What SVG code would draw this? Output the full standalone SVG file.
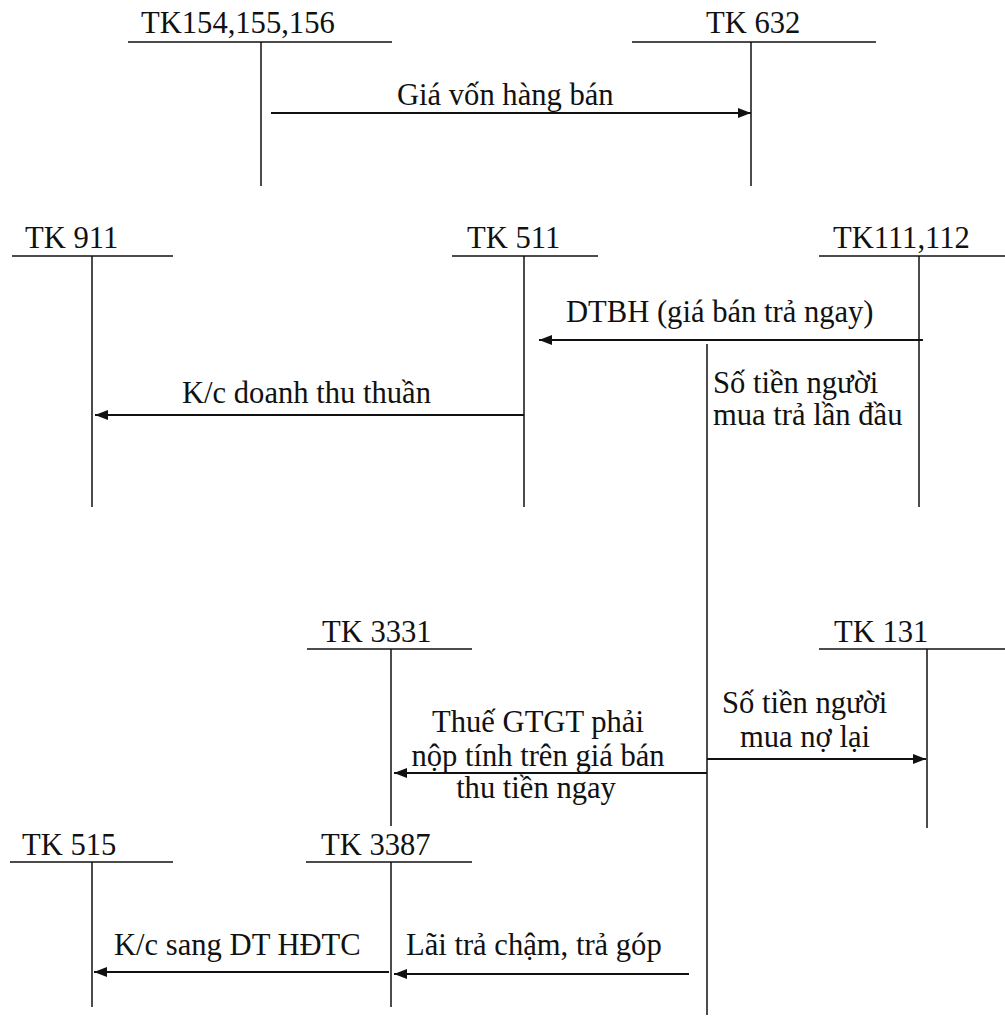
<svg xmlns="http://www.w3.org/2000/svg" width="1005" height="1017" viewBox="0 0 1005 1017">
<defs>
<style>
.t{font-family:"Liberation Serif","Times New Roman",serif;font-size:30.6px;fill:#111}
.a{stroke:#111;stroke-width:1.5;fill:none}
.c{stroke:#111;stroke-width:2;fill:none}
</style>
<marker id="ah" markerUnits="userSpaceOnUse" markerWidth="13" markerHeight="10" refX="13" refY="5" orient="auto">
<path d="M0,0 L13,5 L0,10 z" fill="#111"/>
</marker>
</defs>
<rect width="1005" height="1017" fill="#fff"/>
<g id="tk154">
<text class="t" x="141" y="33">TK154,155,156</text>
<line class="a" x1="128" y1="42" x2="392" y2="42"/>
<line class="a" x1="261" y1="42" x2="261" y2="186"/>
</g>
<g id="tk632">
<text class="t" x="706" y="33">TK 632</text>
<line class="a" x1="632" y1="42" x2="876" y2="42"/>
<line class="a" x1="751" y1="42" x2="751" y2="186"/>
</g>
<g id="tk911">
<text class="t" x="25" y="248">TK 911</text>
<line class="a" x1="12" y1="256" x2="173" y2="256"/>
<line class="a" x1="92" y1="256" x2="92" y2="507"/>
</g>
<g id="tk511">
<text class="t" x="467" y="248">TK 511</text>
<line class="a" x1="452" y1="256" x2="598" y2="256"/>
<line class="a" x1="524" y1="256" x2="524" y2="507"/>
</g>
<g id="tk111">
<text class="t" x="833" y="248">TK111,112</text>
<line class="a" x1="819" y1="256" x2="1005" y2="256"/>
<line class="a" x1="919" y1="256" x2="919" y2="507"/>
</g>
<g id="tk3331">
<text class="t" x="322" y="642">TK 3331</text>
<line class="a" x1="307" y1="649" x2="472" y2="649"/>
<line class="a" x1="391" y1="649" x2="391" y2="826"/>
</g>
<g id="tk131">
<text class="t" x="834" y="642">TK 131</text>
<line class="a" x1="819" y1="649" x2="1005" y2="649"/>
<line class="a" x1="927" y1="649" x2="927" y2="828"/>
</g>
<g id="tk515">
<text class="t" x="22" y="855">TK 515</text>
<line class="a" x1="10" y1="862" x2="173" y2="862"/>
<line class="a" x1="92" y1="862" x2="92" y2="1007"/>
</g>
<g id="tk3387">
<text class="t" x="321" y="855">TK 3387</text>
<line class="a" x1="306" y1="862" x2="472" y2="862"/>
<line class="a" x1="391" y1="862" x2="391" y2="1007"/>
</g>
<g id="connectors">
<line class="c" x1="271" y1="113" x2="751" y2="113" marker-end="url(#ah)"/>
<line class="c" x1="923" y1="340" x2="539" y2="340" marker-end="url(#ah)"/>
<line class="a" x1="707" y1="344" x2="707" y2="1015"/>
<line class="c" x1="524" y1="415" x2="95" y2="415" marker-end="url(#ah)"/>
<line class="c" x1="707" y1="759" x2="926" y2="759" marker-end="url(#ah)"/>
<line class="c" x1="707" y1="773" x2="394" y2="773" marker-end="url(#ah)"/>
<line class="c" x1="389" y1="972" x2="94" y2="972" marker-end="url(#ah)"/>
<line class="c" x1="689" y1="974" x2="394" y2="974" marker-end="url(#ah)"/>
</g>
<g id="labels">
<text class="t" x="397" y="105">Giá vốn hàng bán</text>
<text class="t" x="566" y="322">DTBH (giá bán trả ngay)</text>
<text class="t" x="713" y="393">Số tiền người</text>
<text class="t" x="713" y="425">mua trả lần đầu</text>
<text class="t" x="182" y="403">K/c doanh thu thuần</text>
<text class="t" x="722" y="713">Số tiền người</text>
<text class="t" x="740" y="747">mua nợ lại</text>
<text class="t" x="538" y="732" text-anchor="middle">Thuế GTGT phải</text>
<text class="t" x="538" y="766" text-anchor="middle">nộp tính trên giá bán</text>
<text class="t" x="536" y="798" text-anchor="middle">thu tiền ngay</text>
<text class="t" x="114" y="955">K/c sang DT HĐTC</text>
<text class="t" x="406" y="955">Lãi trả chậm, trả góp</text>
</g>
</svg>
